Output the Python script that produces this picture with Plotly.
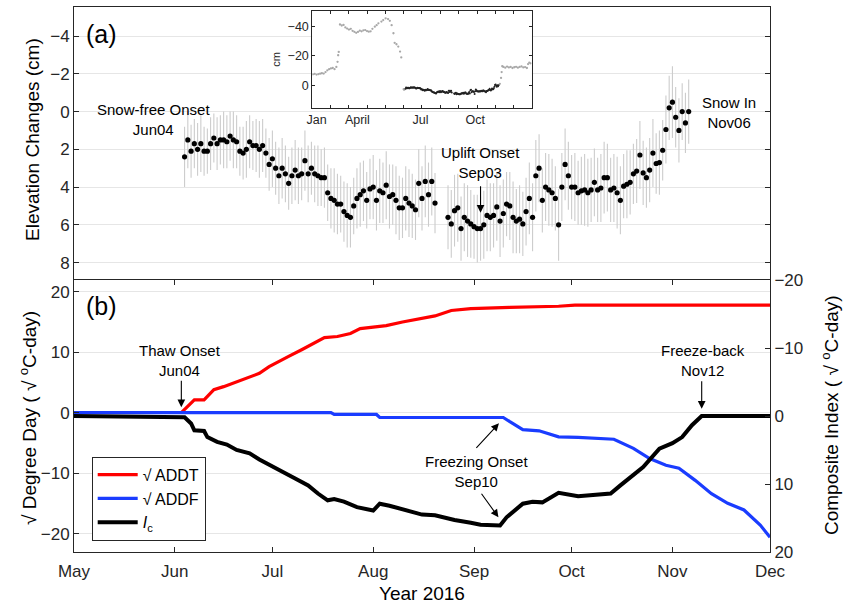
import plotly.graph_objects as go
import pandas as pd

# ---------------- data: panel (a) elevation changes (cm), daily Jun04 - Nov06 ----------------
ELEV_START, ELEV_END = "2016-06-04", "2016-11-06"
ELEV = [
    2.4, 1.5, 2.1, 1.7, 2.0, 1.7, 2.1, 2.1, 1.7, 1.4,
    1.7, 1.5, 1.5, 1.6, 1.3, 1.5, 1.6, 2.1, 2.2, 2.0,
    1.6, 1.8, 1.8, 2.0, 1.8, 2.2, 2.8, 2.5, 3.0, 3.4,
    3.0, 3.3, 3.8, 3.4, 3.1, 3.4, 3.3, 2.6, 3.3, 3.0,
    3.3, 3.4, 3.5, 3.5, 4.3, 4.6, 4.7, 4.9, 4.9, 5.3,
    5.5, 5.6, 5.0, 4.6, 4.4, 4.2, 4.7, 4.1, 4.0, 4.7,
    4.2, 4.3, 3.9, 4.5, 4.4, 4.7, 5.1, 5.1, 4.6, 4.85,
    5.0, 5.2, 3.8, 4.6, 3.7, 4.4, 3.7, 4.85, None, None,
    None, 5.6, 5.95, 5.25, 5.1, 6.2, 5.6, 5.8, 5.95, 6.1,
    6.2, 6.2, 6.0, 5.5, 5.6, 5.5, 5.05, 5.8, 5.4, 4.9,
    5.0, 5.6, 5.8, 5.7, 5.95, 5.3, 4.6, 5.6, 3.4, 3.0,
    4.7, 4.0, 4.15, 4.3, 4.6, 6.0, 4.0, 2.8, 3.4, 4.0,
    4.0, 4.3, 4.2, 4.15, 4.3, 4.15, 3.75, 4.15, 4.05, 3.5,
    3.5, 4.15, 4.05, 4.3, 4.7, 3.95, 3.85, 3.75, 3.3, 3.15,
    2.3, 3.25, 3.5, 3.1, 2.2, 2.75, 2.7, 2.05, 0.95, -0.2,
    -0.5, 0.3, 1.0, 0.0, 0.6, 0.0,
]
ELEV_ERR = [
    1.6, 1.5, 1.4, 1.3, 1.4, 1.5, 1.3, 1.2, 1.4, 1.3,
    1.4, 1.3, 1.5, 1.4, 1.3, 1.5, 1.4, 1.3, 1.4, 1.5,
    1.4, 1.3, 1.4, 1.5, 1.4, 1.3, 1.4, 1.5, 1.4, 1.5,
    1.6, 1.5, 1.4, 1.5, 1.6, 1.5, 1.4, 1.6, 1.5, 1.4,
    1.5, 1.6, 1.5, 1.6, 1.5, 1.6, 1.7, 1.6, 1.5, 1.6,
    1.7, 1.6, 1.5, 1.6, 1.7, 1.6, 1.5, 1.6, 1.7, 1.6,
    1.7, 1.6, 1.8, 1.7, 1.6, 1.8, 1.7, 1.6, 1.7, 1.8,
    1.7, 1.6, 1.8, 1.7, 1.9, 1.7, 1.8, 1.6, None, None,
    None, 1.7, 1.8, 1.9, 1.8, 1.7, 1.8, 1.9, 1.8, 1.7,
    1.8, 1.7, 1.8, 1.9, 1.8, 1.7, 1.8, 1.9, 1.8, 1.7,
    1.8, 1.9, 1.7, 1.8, 1.7, 1.8, 1.9, 1.8, 1.9, 1.8,
    1.7, 1.8, 1.9, 1.8, 1.7, 1.9, 1.8, 1.9, 1.8, 1.7,
    1.8, 1.7, 1.8, 1.9, 1.8, 1.7, 1.8, 1.7, 1.8, 1.9,
    1.8, 1.7, 1.8, 1.9, 1.8, 1.7, 1.8, 1.7, 1.6, 1.7,
    1.8, 1.7, 1.6, 1.7, 1.8, 1.6, 1.7, 1.6, 1.8, 1.7,
    1.9, 1.6, 1.7, 1.5, 1.6, 1.7,
]
ELEV_DATES = pd.date_range(ELEV_START, ELEV_END, freq="D")

# ---------------- inset: full-year record (grey = outside analysis window) ----------------
INSET_GRAY_DATES = [
    "2016-01-02", "2016-01-05", "2016-01-08", "2016-01-11", "2016-01-14", "2016-01-17",
    "2016-01-20", "2016-01-23", "2016-01-26", "2016-01-29", "2016-02-01", "2016-02-04",
    "2016-02-07", "2016-02-10", "2016-02-12", "2016-02-13", "2016-02-14", "2016-02-16",
    "2016-02-19", "2016-02-22", "2016-02-25", "2016-02-28", "2016-03-02", "2016-03-05",
    "2016-03-08", "2016-03-11", "2016-03-14", "2016-03-17", "2016-03-20", "2016-03-23",
    "2016-03-26", "2016-03-29", "2016-04-01", "2016-04-04", "2016-04-07", "2016-04-10",
    "2016-04-14", "2016-04-17", "2016-04-20", "2016-04-25", "2016-04-28", "2016-05-02",
    "2016-05-06", "2016-05-09", "2016-05-12", "2016-05-15", "2016-05-17", "2016-05-20",
    "2016-05-23", "2016-05-26", "2016-05-28", "2016-06-01", "2016-06-02",
    "2016-11-08", "2016-11-10", "2016-11-11", "2016-11-12", "2016-11-14", "2016-11-17",
    "2016-11-20", "2016-11-23", "2016-11-26", "2016-11-29", "2016-12-02", "2016-12-05",
    "2016-12-08", "2016-12-11", "2016-12-14", "2016-12-17", "2016-12-20", "2016-12-23",
    "2016-12-25", "2016-12-27", "2016-12-29",
]
INSET_GRAY = [
    -7.5, -7.8, -7.3, -7.6, -7.9, -8.2,
    -8.0, -9.0, -10.2, -11.0, -11.5, -11.8,
    -11.0, -12.5, -16.0, -20.5, -22.8, -41.5,
    -40.8, -41.2, -39.5, -38.7, -38.0, -38.5,
    -37.2, -36.5, -35.8, -36.4, -37.3, -36.8,
    -37.5, -37.7, -37.0, -36.6, -36.8, -38.5,
    -40.0, -41.0, -42.3, -43.5, -44.5, -45.7,
    -45.2, -44.0, -41.0, -35.5, -29.0, -28.0,
    -26.4, -23.0, -19.0, 2.7, 3.0,
    -1.0, -5.0, -9.0, -13.0, -12.5, -12.0,
    -12.8, -12.2, -12.5, -11.8, -12.3, -12.6,
    -12.0, -12.5, -12.9, -12.2, -12.4, -11.8,
    -14.5, -15.5, -15.0,
]
INSET_RANGE = ["2016-01-01", "2016-12-31"]
INSET_MONTHS = pd.date_range("2016-01-01", "2016-12-01", freq="MS")
INSET_LABEL_POS = ["2016-01-08", "2016-03-16", "2016-06-29", "2016-09-28"]
INSET_LABELS = ["Jan", "April", "Jul", "Oct"]

# ---------------- panel (b): sqrt degree days and composite index ----------------
ADDT_DATES = [
    "2016-06-03", "2016-06-05", "2016-06-07", "2016-06-10", "2016-06-13", "2016-06-16",
    "2016-06-20", "2016-06-24", "2016-06-27", "2016-06-30", "2016-07-03", "2016-07-06",
    "2016-07-10", "2016-07-14", "2016-07-17", "2016-07-21", "2016-07-25", "2016-07-28",
    "2016-08-01", "2016-08-05", "2016-08-10", "2016-08-16", "2016-08-20", "2016-08-25",
    "2016-08-31", "2016-09-12", "2016-09-27", "2016-10-02", "2016-12-01",
]
ADDT = [
    0.0, 1.0, 2.1, 2.1, 3.8, 4.3,
    5.1, 6.0, 6.5, 7.6, 8.5, 9.3,
    10.4, 11.5, 12.4, 12.6, 13.1, 13.9,
    14.1, 14.4, 15.0, 15.6, 16.0, 16.9,
    17.2, 17.4, 17.6, 17.8, 17.8,
]
ADDF_DATES = [
    "2016-05-01", "2016-07-19", "2016-07-20", "2016-08-02", "2016-08-03", "2016-09-10",
    "2016-09-12", "2016-09-16", "2016-09-21", "2016-09-27", "2016-10-03", "2016-10-14",
    "2016-10-20", "2016-10-25", "2016-10-30", "2016-11-03", "2016-11-08", "2016-11-13",
    "2016-11-18", "2016-11-23", "2016-11-28", "2016-12-01",
]
ADDF = [
    0.0, 0.0, -0.3, -0.3, -0.8, -0.8,
    -1.5, -2.8, -3.0, -4.0, -4.1, -4.4,
    -5.9, -7.6, -8.7, -9.2, -11.2, -13.4,
    -15.0, -16.1, -18.6, -20.6,
]
IC_DATES = [
    "2016-05-01", "2016-06-04", "2016-06-06", "2016-06-07", "2016-06-10", "2016-06-11",
    "2016-06-14", "2016-06-17", "2016-06-20", "2016-06-24", "2016-06-27", "2016-06-30",
    "2016-07-04", "2016-07-08", "2016-07-12", "2016-07-15", "2016-07-18", "2016-07-20",
    "2016-07-23", "2016-07-27", "2016-08-01", "2016-08-03", "2016-08-06", "2016-08-10",
    "2016-08-16", "2016-08-20", "2016-08-26", "2016-08-31", "2016-09-03", "2016-09-09",
    "2016-09-11", "2016-09-16", "2016-09-19", "2016-09-22", "2016-09-27", "2016-10-03",
    "2016-10-08", "2016-10-13", "2016-10-16", "2016-10-19", "2016-10-23", "2016-10-28",
    "2016-11-01", "2016-11-04", "2016-11-07", "2016-11-10", "2016-12-01",
]
IC = [
    0.0, 0.2, 1.1, 2.1, 2.2, 3.1,
    3.8, 4.2, 5.0, 5.5, 6.4, 7.2,
    8.2, 9.2, 10.2, 11.4, 12.4, 12.2,
    12.6, 13.4, 13.9, 12.9, 13.2, 13.7,
    14.5, 14.6, 15.3, 15.7, 16.0, 16.1,
    14.9, 12.9, 12.6, 12.7, 11.3, 11.8,
    11.6, 11.4, 10.2, 9.0, 7.5, 4.8,
    4.0, 3.1, 1.35, 0.0, 0.0,
]
MONTHS = pd.date_range("2016-05-01", "2016-12-01", freq="MS")
X_RANGE = ["2016-05-01", "2016-12-01"]
A_RANGE = [8.87, -5.54]
B_RANGE = [-23.05, 21.94]
C_RANGE = [20, -20]
INSET_Y_RANGE = [15.3, -50.7]

# ---------------- style ----------------
FONT = "Liberation Sans, Arial, sans-serif"
INK = "#262626"
GRID = "#e6e6e6"

fig = go.Figure()

# panel (a)
fig.add_trace(go.Scatter(
    x=ELEV_DATES, y=ELEV, mode="markers", xaxis="x", yaxis="y", showlegend=False,
    marker=dict(color="black", size=5.2),
    error_y=dict(type="data", array=ELEV_ERR, visible=True, color="#cccccc", thickness=1.1, width=0),
))

# inset
fig.add_trace(go.Scatter(
    x=INSET_GRAY_DATES, y=INSET_GRAY, mode="markers", xaxis="x3", yaxis="y4", showlegend=False,
    marker=dict(color="#a8a8a8", size=2.3),
))
fig.add_trace(go.Scatter(
    x=ELEV_DATES, y=ELEV, mode="markers", xaxis="x3", yaxis="y4", showlegend=False,
    marker=dict(color="#222222", size=2.0),
))

# panel (b)
fig.add_trace(go.Scatter(x=ADDT_DATES, y=ADDT, mode="lines", name="\u221a ADDT",
                         xaxis="x2", yaxis="y2", line=dict(color="#ff0000", width=3.2)))
fig.add_trace(go.Scatter(x=ADDF_DATES, y=ADDF, mode="lines", name="\u221a ADDF",
                         xaxis="x2", yaxis="y2", line=dict(color="#1a3cff", width=3.2)))
fig.add_trace(go.Scatter(x=IC_DATES, y=IC, mode="lines", name="<i>I</i><sub>c</sub>",
                         xaxis="x2", yaxis="y3", line=dict(color="black", width=4)))

tickfont = dict(family=FONT, size=17, color=INK)
common = dict(showline=True, linecolor=INK, linewidth=1, ticks="inside", ticklen=5,
              tickcolor=INK, tickfont=tickfont, zeroline=False, automargin=False)

W, H = 843, 606
ML, MR, MT, MB = 74, 73, 7, 54
PW, PH = W - ML - MR, H - MT - MB


def px(xp):
    return (xp - ML) / PW


def py(yp):
    return (H - MB - yp) / PH


small = dict(family=FONT, size=12.5, color=INK)

fig.update_layout(
    width=W, height=H, margin=dict(l=ML, r=MR, t=MT, b=MB, autoexpand=False),
    paper_bgcolor="white", plot_bgcolor="white",
    font=dict(family=FONT, color=INK),
    xaxis=dict(domain=[0, 1], anchor="y", range=X_RANGE, type="date", showticklabels=False,
               showline=True, linecolor=INK, mirror=True, showgrid=False, zeroline=False, ticks="",
               automargin=False),
    yaxis=dict(domain=[py(279), 1], anchor="x", range=A_RANGE,
               tickvals=[-4, -2, 0, 2, 4, 6, 8], mirror="ticks", showgrid=True, gridcolor=GRID,
               **common),
    xaxis2=dict(domain=[0, 1], anchor="y2", range=X_RANGE, type="date", tickvals=MONTHS,
                tickformat="%b", mirror="ticks", showgrid=False, ticklabelstandoff=4, **common),
    yaxis2=dict(domain=[0, py(280)], anchor="x2", range=B_RANGE,
                tickvals=[-20, -10, 0, 10, 20], showgrid=True, gridcolor=GRID, mirror=False,
                **common),
    yaxis3=dict(overlaying="y2", anchor="x2", side="right", range=C_RANGE,
                tickvals=[-20, -10, 0, 10, 20], showgrid=False, **common),
    xaxis3=dict(domain=[px(312.3), px(531.7)], anchor="y4", range=INSET_RANGE,
                type="date", tickvals=INSET_LABEL_POS, ticktext=INSET_LABELS,
                showline=True, linecolor=INK, mirror="ticks", ticks="inside", ticklen=0,
                tickcolor=INK, tickfont=small, showgrid=False, zeroline=False, automargin=False,
                minor=dict(tickvals=INSET_MONTHS, ticks="inside", ticklen=3, tickcolor=INK,
                           showgrid=False)),
    yaxis4=dict(domain=[py(107.7), py(11)], anchor="x3", range=INSET_Y_RANGE,
                tickvals=[-40, -20, 0], showline=True, linecolor=INK, mirror="ticks",
                ticks="inside", ticklen=3, tickcolor=INK, automargin=False,
                tickfont=small, showgrid=False, zeroline=False,
                title=dict(text="cm", font=dict(family=FONT, size=11, color=INK), standoff=4)),
    legend=dict(x=px(91.7), y=py(456.7), xanchor="left", yanchor="top", bgcolor="white",
                bordercolor=INK, borderwidth=1, font=dict(family=FONT, size=16, color="black"),
                tracegroupgap=0, itemwidth=40),
    shapes=[dict(type="rect", xref="x3", yref="y4",
                 x0=INSET_RANGE[0], x1=INSET_RANGE[1],
                 y0=INSET_Y_RANGE[0], y1=INSET_Y_RANGE[1],
                 fillcolor="white", line=dict(width=0), layer="below")],
)

ann = []


def txt(s, x, y, size=15, **kw):
    ann.append(dict(text=s, xref="paper", yref="paper", x=px(x), y=py(y), showarrow=False,
                    xanchor="center", yanchor="middle",
                    font=dict(family=FONT, size=size, color="black"), **kw))


# axis titles
txt("Elevation Changes (cm)", 33, 140, size=19, textangle=-90)
txt("\u221a Degree Day ( \u221a <sup>o</sup>C-day)", 28, 418, size=19, textangle=-90)
txt("Composite Index ( \u221a <sup>o</sup>C-day)", 830, 415, size=19, textangle=-90)
txt("Year 2016", 422, 593, size=19)
# panel labels
txt("(a)", 101, 34, size=25)
txt("(b)", 101, 306, size=25)
# event labels
txt("Snow-free Onset<br>Jun04", 153, 120)
txt("Uplift Onset<br>Sep03", 480, 162.5)
txt("Snow In<br>Nov06", 729, 112.5)
txt("Thaw Onset<br>Jun04", 180, 361)
txt("Freezing Onset<br>Sep10", 476.7, 471)
txt("Freeze-back<br>Nov12", 702.7, 361)

arrow = dict(showarrow=True, text="", arrowhead=2, arrowsize=1.4, arrowwidth=1.1,
             arrowcolor="black", standoff=0, startstandoff=0, axref="pixel", ayref="pixel")
ann.append(dict(x="2016-09-03", y=5.36, xref="x", yref="y", ax=0, ay=-28, **arrow))
ann.append(dict(x="2016-06-03", y=0.9, xref="x2", yref="y2", ax=0, ay=-28, **arrow))
ann.append(dict(x="2016-11-10", y=0.66, xref="x2", yref="y2", ax=0, ay=-29, **arrow))
ann.append(dict(x="2016-09-08 16:00", y=-1.77, xref="x2", yref="y2", ax=-24, ay=26, **arrow))
ann.append(dict(x="2016-09-08 12:00", y=-17.3, xref="x2", yref="y2", ax=-18, ay=-25, **arrow))

fig.update_layout(annotations=ann)
fig.write_html("out.html")
